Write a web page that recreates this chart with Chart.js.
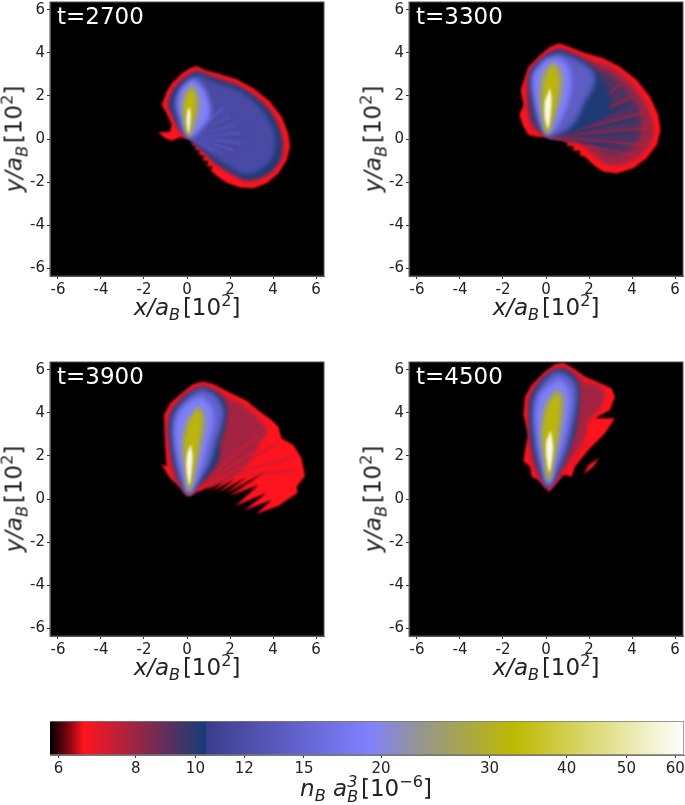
<!DOCTYPE html>
<html>
<head>
<meta charset="utf-8">
<script src="https://cdn.jsdelivr.net/npm/chart.js@4/dist/chart.umd.min.js"></script>
<style>
html,body{margin:0;padding:0;background:#fff;width:685px;height:805px;overflow:hidden}
canvas{position:absolute}
.lab{position:absolute;font-family:"DejaVu Sans",sans-serif;font-size:23px;color:#222;white-space:nowrap;transform:translate(-50%,-50%);line-height:1}
.lab.rot{transform:translate(-50%,-50%) rotate(-90deg)}
.lab sub,.lab sup{font-size:.7em;line-height:0}
.gap{margin-left:.12em}
.stamp{position:absolute;font-family:"DejaVu Sans",sans-serif;font-size:23px;color:#fff;line-height:1}
.ss{display:inline-flex;flex-direction:column;font-size:.7em;line-height:.95;vertical-align:middle;font-style:italic}
</style>
</head>
<body>
<script>
// ---- axis ticks
const axisTicks = [-6,-4,-2,0,2,4,6];
const axisLimit = 6.37;
const colorbarTicks = [6,8,10,12,15,20,30,40,50,60];
const colorbarRange = [5.81,62];

// ---- colour scale of the density
const cmapValues = [5.81,6.2,6.59,10.4,10.4,19.1,23.3,32.9,62];
const cmapColors = [[0,0,0],[120,5,15],[255,20,30],[20,60,120],[60,60,140],[128,128,255],[150,150,140],[190,185,0],[255,255,255]];

// ---- t = 2700: density contours [x, y]
const t2700Levels = [6.6,10.3,11.8,19,24,33,58];
const t2700A = [[.45,3.4],[.84,3.21],[1.53,3.02],[2.31,2.78],[3.09,2.36],[3.86,1.74],[4.4,1.04],[4.71,.26],[4.79,-.36],[4.64,-.98],[4.25,-1.6],[3.71,-2.06],[3.09,-2.29],[2.47,-2.26],[1.84,-2.03],[1.38,-1.72],[1.1,-1.45],[1.2,-1.28],[.9,-1.25],[1,-1.05],[.7,-.98],[.82,-.8],[.52,-.72],[.62,-.55],[.36,-.5],[.45,-.35],[.22,-.28],[.3,-.15],[.14,-.02],[-.33,.08],[-.71,-.08],[-1.02,.03],[-1.33,.31],[-.79,.34],[-.71,.65],[-.95,1.19],[-1.18,1.58],[-.95,2.2],[-.71,2.59],[-.25,3.05],[.14,3.29]];
const t2700B = [[.45,3.18],[1.38,2.82],[2.31,2.51],[3.09,2.05],[3.71,1.5],[4.17,.81],[4.45,-.05],[4.4,-.82],[4.02,-1.44],[3.4,-1.83],[2.78,-1.94],[2.16,-1.67],[1.53,-1.29],[.99,-.82],[.53,-.36],[.14,.03],[-.33,.42],[-.64,1.04],[-.87,1.58],[-.64,2.28],[-.17,2.82]];
const t2700C = [[.53,3.02],[1.46,2.59],[2.31,2.31],[3.01,1.84],[3.55,1.27],[3.94,.65],[4.12,-.05],[4.05,-.67],[3.71,-1.21],[3.16,-1.57],[2.62,-1.63],[2,-1.32],[1.46,-.98],[.91,-.59],[.45,-.28],[.14,.08],[-.25,.42],[-.48,.96],[-.64,1.58],[-.43,2.2],[-.02,2.71]];
const t2700D = [[.37,2.82],[.84,2.28],[1.07,1.58],[1.07,1.04],[.68,.5],[.22,.08],[-.09,.26],[-.33,.96],[-.48,1.66],[-.33,2.28],[.06,2.71]];
const t2700E = [[.26,2.59],[.53,2.12],[.64,1.5],[.45,.81],[.11,.08],[-.09,.65],[-.25,1.5],[-.09,2.2]];
const t2700F = [[.2,2.4],[.38,1.97],[.38,1.43],[.24,.81],[.06,.14],[-.1,.81],[-.12,1.5],[-.01,2.05]];
const t2700G = [[.12,1.5],[.17,1.04],[.08,.26],[-.02,.81],[.02,1.3]];
const t2700Light = [[1.69,1.43],[2,1.04],[2.31,.65],[2.47,.26],[2.47,-.2],[2.16,-.51],[1.69,-.67],[1.22,-.59]];
const t2700Dark = [[2.5,1.2],[2.9,.7],[3.1,.1],[2.9,-.5],[2.4,-.9]];

// ---- t = 3300
const t3300Levels = [6.6,8,9.3,10.2,14,19,24,32,58];
const t3300A = [[.62,4.45],[.96,4.33],[1.74,4.02],[2.67,3.75],[3.44,3.36],[4.22,2.74],[4.84,1.97],[5.22,1.12],[5.33,.42],[5.15,-.28],[4.68,-.9],[4.06,-1.36],[3.29,-1.6],[2.67,-1.52],[2.2,-1.21],[1.81,-.82],[1.55,-.75],[1.6,-.55],[1.25,-.55],[1.3,-.35],[.96,-.3],[1,-.12],[.57,.02],[.11,.08],[-.43,.1],[-.82,.19],[-1.05,.57],[-1.24,1.12],[-1.05,1.58],[-1.18,2.28],[-.82,3.36],[-.28,3.91],[.19,4.29]];
const t3300B = [[.62,4.22],[1.89,3.75],[2.98,3.36],[3.83,2.74],[4.53,1.89],[4.91,1.04],[5.02,.34],[4.76,-.36],[4.22,-.9],[3.52,-1.21],[2.82,-1.21],[2.36,-.9],[1.92,-.51],[1.5,-.12],[.96,.03],[.11,.14],[-.67,.57],[-.9,1.66],[-.82,3.05],[-.2,3.75],[.19,4.06]];
const t3300C = [[.62,4.17],[2.05,3.44],[2.98,2.98],[3.67,2.36],[4.22,1.66],[4.45,.88],[4.37,.11],[3.91,-.51],[3.29,-.74],[2.67,-.59],[2.05,-.2],[1.43,.11],[.81,.14],[.11,.17],[-.59,.73],[-.74,1.66],[-.7,3.05],[-.12,3.75],[.26,4.02]];
const t3300D = [[.62,4.11],[1.58,3.75],[2.28,3.13],[2.82,2.43],[3.02,1.75],[2.9,1.15],[2.3,.8],[1.74,.5],[1.1,.25],[.19,.14],[-.43,.73],[-.67,1.81],[-.67,3.13],[-.12,3.75]];
const t3300E = [[.62,4.02],[1.5,3.67],[2.23,3.05],[2.2,2.43],[1.81,1.74],[1.5,1.04],[.96,.42],[.11,.14],[-.36,.73],[-.59,1.74],[-.67,3.05],[-.05,3.75]];
const t3300F = [[.42,3.83],[.96,3.52],[1.19,2.74],[1.04,1.74],[.57,.65],[.06,.19],[-.28,.88],[-.51,1.81],[-.59,2.9],[-.05,3.67]];
const t3300G = [[.34,3.6],[.73,3.21],[.81,2.43],[.57,1.43],[.06,.19],[-.2,1.04],[-.31,2.12],[-.2,3.05]];
const t3300H = [[.3,3.5],[.56,3.05],[.58,2.36],[.4,1.35],[.06,.26],[-.14,1.12],[-.15,2.12],[-.04,2.9]];
const t3300I = [[.19,2.4],[.26,1.74],[.11,.5],[-.06,1.04],[-.06,1.74]];
const t3300Blue = [[3.8,1.6],[4.1,.95],[3.95,.3],[3.4,-.25],[2.8,-.35]];
const t3300Red = [[3.5,2.55],[4.05,2],[4.5,1.2],[4.75,.5],[4.7,-.3],[4.2,-.8]];

// ---- t = 3900
const t3900Levels = [6.6,7.9,10.3,14.5,19,24,32,58];
const t3900A = [[.76,5.46],[1.22,5.35],[1.92,4.99],[2.78,4.57],[3.4,4.06],[3.94,3.67],[4.25,3.36],[4.4,2.82],[4.95,2.51],[5.33,1.89],[5.49,1.07],[5.1,.57],[5.15,.29],[4.25,-.33],[3.21,-.7],[3.94,-.05],[2.65,-.54],[3.71,.29],[2.25,-.33],[3.32,.65],[1.97,.14],[3.63,1.27],[1.77,.23],[2.78,1.04],[1.46,.29],[2.23,.96],[1.15,.34],[1.77,.88],[.84,.39],[1.22,.73],[.6,.39],[.29,.39],[.02,.11],[-.33,.57],[-.79,.96],[-1.21,1.63],[-.95,1.5],[-1.02,2.59],[-1.07,3.91],[-.79,4.45],[-.17,4.99],[.29,5.35]];
const t3900B = [[.76,5.3],[1.84,4.76],[2.62,4.37],[3.24,3.83],[3.71,3.21],[3.4,2.59],[2.78,1.66],[1.92,.88],[1.22,.65],[.45,.5],[.06,.26],[-.64,1.04],[-.87,2.59],[-.87,3.83],[-.17,4.84],[.29,5.15]];
const t3900C = [[.76,5.22],[1.46,4.91],[1.84,4.29],[1.77,3.36],[1.53,2.59],[1.46,1.81],[1.07,1.19],[.53,.65],[.06,.23],[-.4,1.04],[-.71,2.12],[-.82,3.36],[-.71,4.06],[-.09,4.76],[.37,5.07]];
const t3900D = [[.76,5.15],[1.38,4.76],[1.69,4.14],[1.61,3.44],[1.3,2.43],[1.07,1.66],[.6,.88],[.08,.23],[-.33,1.04],[-.6,2.12],[-.71,3.36],[-.56,4.06],[-.02,4.68],[.37,4.99]];
const t3900E = [[.68,4.76],[1.15,4.29],[1.22,3.52],[.91,2.28],[.6,1.19],[.08,.26],[-.25,1.19],[-.48,2.28],[-.56,3.36],[-.33,4.06],[.22,4.6]];
const t3900F = [[.57,4.37],[.84,3.98],[.84,3.29],[.6,2.12],[.11,.29],[-.14,1.66],[-.25,2.74],[-.02,3.67]];
const t3900G = [[.5,4.25],[.68,3.83],[.64,3.13],[.46,2.12],[.11,.42],[-.08,1.74],[-.1,2.74],[.11,3.6]];
const t3900H = [[.18,2.55],[.26,1.91],[.11,.65],[-.03,1.5],[.01,2.12]];
const t3900Maroon = [[4.2,2.6],[4.8,1.9],[5,1.3]];
const t3900MaroonFrom = [1.8,1.1];
const t3900Red = [[3.3,3],[3.1,2.2],[2.5,1.5],[1.9,1.1]];

// ---- t = 4500
const t4500Levels = [6.6,7.9,10.3,14.5,19,24,32,58];
const t4500A = [[.81,6.33],[1.27,6.08],[1.81,5.69],[2.43,5.43],[3.05,5.15],[3.21,4.76],[2.98,4.14],[2.28,3.75],[3.21,3.75],[2.74,3.05],[1.97,2.28],[1.35,1.5],[1.19,1.04],[.65,1.19],[.11,.42],[-.36,.88],[-.67,1.04],[-.74,1.5],[-1.05,1.74],[-.98,2.28],[-.82,2.98],[-1.05,3.91],[-.98,4.76],[-.67,5.3],[-.05,5.92],[.42,6.26]];
const t4500Streak = [[2.48,1.92],[2.2,1.5],[1.74,1.15],[1.97,1.58]];
const t4500B = [[.81,6.16],[1.35,5.84],[1.81,5.46],[2.51,5.22],[2.74,4.84],[2.51,4.22],[1.97,3.6],[1.81,2.82],[1.43,2.05],[.96,1.43],[.11,.5],[-.43,1.12],[-.74,2.05],[-.82,3.91],[-.74,4.84],[-.05,5.77],[.42,6.11]];
const t4500C = [[.81,6.05],[1.27,5.77],[1.53,5.22],[1.55,4.53],[1.35,3.13],[1.04,2.2],[.65,1.35],[.11,.53],[-.36,1.43],[-.67,2.67],[-.78,4.06],[-.67,4.84],[-.05,5.69],[.42,6]];
const t4500D = [[.73,5.92],[1.19,5.61],[1.43,5.15],[1.43,4.53],[1.19,3.13],[.88,2.05],[.12,.57],[-.31,1.58],[-.56,2.82],[-.65,4.06],[-.51,4.84],[.03,5.61],[.42,5.89]];
const t4500E = [[.65,5.58],[1.04,5.15],[1.12,4.37],[.88,2.98],[.5,1.74],[.12,.65],[-.2,1.74],[-.4,2.82],[-.47,4.06],[-.28,4.84],[.26,5.38]];
const t4500F = [[.62,5.15],[.85,4.68],[.81,3.75],[.5,2.2],[.12,.73],[-.12,2.05],[-.25,3.13],[-.05,4.37],[.34,5]];
const t4500G = [[.55,4.95],[.69,4.53],[.62,3.6],[.4,2.2],[.12,.88],[-.08,2.12],[-.15,3.13],[.03,4.22],[.34,4.76]];
const t4500H = [[.22,3.2],[.33,2.36],[.16,1.25],[.01,2.05],[.01,2.67]];
const t4500Red = [[2.4,3.6],[2.2,2.9],[1.9,2.4]];

// ---- panel descriptors
const panels = [
 {t:'t=2700',left:0,top:0,width:340,levels:t2700Levels,shapes:[t2700A,t2700B,t2700C,t2700D,t2700E,t2700F,t2700G],extra:[],origin:[.1,.1],
  rays:[{ends:t2700Light,level:15,alpha:.4,width:2.5,after:2},{ends:t2700Dark,level:11,alpha:.35,width:2,after:2}]},
 {t:'t=3300',left:359,top:0,width:326,levels:t3300Levels,shapes:[t3300A,t3300B,t3300C,t3300D,t3300E,t3300F,t3300G,t3300H,t3300I],extra:[],origin:[.1,.1],
  rays:[{ends:t3300Blue,level:10.2,alpha:.8,width:3.5,after:2},{ends:t3300Red,level:7.2,alpha:.6,width:2.2,after:2}]},
 {t:'t=3900',left:0,top:360,width:340,levels:t3900Levels,shapes:[t3900A,t3900B,t3900C,t3900D,t3900E,t3900F,t3900G,t3900H],extra:[],origin:[.1,.2],
  rays:[{ends:t3900Maroon,from:t3900MaroonFrom,level:7.6,alpha:.55,width:2.5,after:0},{ends:t3900Red,level:6.8,alpha:.6,width:2.2,after:1}]},
 {t:'t=4500',left:359,top:360,width:326,levels:t4500Levels,shapes:[t4500A,t4500B,t4500C,t4500D,t4500E,t4500F,t4500G,t4500H],extra:[t4500Streak],origin:[.1,.4],
  rays:[{ends:t4500Red,level:6.8,alpha:.6,width:2.5,after:1}]}
];

function colorFor(v,alpha){
  let i=0;
  while(i<cmapValues.length-2 && v>=cmapValues[i+1]) i++;
  const a=cmapValues[i],b=cmapValues[i+1];
  const f=b>a?Math.min(1,Math.max(0,Math.log(v/a)/Math.log(b/a))):1;
  const c=cmapColors[i].map((k,j)=>Math.round(k+(cmapColors[i+1][j]-k)*f));
  return alpha===undefined?`rgb(${c})`:`rgba(${c},${alpha})`;
}
const toPts=a=>a.map(p=>({x:p[0],y:p[1]}));
const softFor=l=>l<7?0.8:l<11?2.2:l<20?2.6:l<50?2.2:1.3;

const softLayers={id:'softLayers',
  beforeDraw(c){const a=c.chartArea;c.ctx.save();c.ctx.fillStyle='#000';c.ctx.fillRect(a.left,a.top,a.width,a.height);c.ctx.restore();},
  beforeDatasetsDraw(c){c.ctx.save();c.ctx.filter=`blur(${c.data.datasets[0].soft}px)`;},
  afterDatasetDraw(c,args){const n=c.data.datasets[args.index+1];if(n)c.ctx.filter=`blur(${n.soft}px)`;},
  afterDatasetsDraw(c){c.ctx.filter='none';c.ctx.restore();const a=c.chartArea;c.ctx.save();c.ctx.strokeStyle='#555';c.ctx.lineWidth=1;c.ctx.strokeRect(a.left,a.top,a.width,a.height);c.ctx.restore();}
};

function axis(pos){
  return {type:'linear',position:pos,min:-axisLimit,max:axisLimit,
    afterBuildTicks(s){s.ticks=axisTicks.map(v=>({value:v}));},
    afterFit(s){ if(pos==='left') s.width=50; else s.height=64; s.paddingTop=0;s.paddingBottom=0;s.paddingLeft=0;s.paddingRight=0; },
    grid:{display:true,drawOnChartArea:false,drawTicks:true,tickLength:3,tickColor:'#333'},
    border:{display:true,color:'#555',width:1},
    ticks:{color:'#222',font:{family:'"DejaVu Sans"',size:15},padding:2,maxRotation:0,autoSkip:false,callback:v=>String(v)}
  };
}

panels.forEach(p=>{
  const cv=document.createElement('canvas');
  cv.style.left=p.left+'px';cv.style.top=p.top+'px';
  cv.style.width=p.width+'px';cv.style.height='340px';
  cv.width=p.width;cv.height=340;
  document.body.appendChild(cv);
  const ds=[];let order=0;
  p.shapes.forEach((s,i)=>{
    const col=colorFor(p.levels[i]);
    ds.push({data:toPts(s),showLine:true,fill:'shape',backgroundColor:col,borderColor:col,borderWidth:0,pointRadius:0,tension:i===0?0:.3,order:order--,soft:softFor(p.levels[i])});
    if(i===0) p.extra.forEach(e=>{ds.push({data:toPts(e),showLine:true,fill:'shape',backgroundColor:col,borderColor:col,borderWidth:0,pointRadius:0,tension:0,order:order--,soft:1});});
    p.rays.filter(g=>g.after===i).forEach(g=>g.ends.forEach(r=>{
      ds.push({data:toPts([g.from||p.origin,r]),showLine:true,fill:false,borderColor:colorFor(g.level,g.alpha),borderWidth:g.width,pointRadius:0,tension:0,order:order--,soft:1});
    }));
  });
  new Chart(cv,{type:'scatter',data:{datasets:ds},plugins:[softLayers],
    options:{responsive:false,animation:false,events:[],
      layout:{padding:{top:2,left:0,right:p.width-324,bottom:0}},
      plugins:{legend:{display:false},tooltip:{enabled:false},title:{display:false}},
      scales:{x:axis('bottom'),y:axis('left')}}});
  const plotLeft=p.left+50, plotTop=p.top+2;
  const st=document.createElement('div');st.className='stamp';st.textContent=p.t;
  st.style.left=(plotLeft+7)+'px';st.style.top=(plotTop+3)+'px';document.body.appendChild(st);
  const xl=document.createElement('div');xl.className='lab';xl.innerHTML='<i>x/a<sub>B</sub></i><span class="gap">[10<sup>2</sup>]</span>';
  xl.style.left=(plotLeft+137)+'px';xl.style.top=(plotTop+305)+'px';document.body.appendChild(xl);
  const yl=document.createElement('div');yl.className='lab rot';yl.innerHTML='<i>y/a<sub>B</sub></i><span class="gap">[10<sup>2</sup>]</span>';
  yl.style.left=(plotLeft-36)+'px';yl.style.top=(plotTop+137)+'px';document.body.appendChild(yl);
});

// ---- colour bar
const cb=document.createElement('canvas');
cb.style.left='0';cb.style.top='700px';cb.style.width='685px';cb.style.height='105px';cb.width=685;cb.height=105;
document.body.appendChild(cb);
new Chart(cb,{type:'bar',
  data:{labels:['n'],datasets:[{data:[colorbarRange],barPercentage:1,categoryPercentage:1,borderWidth:1,borderColor:'#777',
    backgroundColor(ctx){
      const c=ctx.chart,a=c.chartArea;if(!a) return '#000';
      const s=c.scales.x,g=c.ctx.createLinearGradient(a.left,0,a.right,0);
      cmapValues.forEach((v,i)=>{g.addColorStop(Math.min(1,Math.max(0,(s.getPixelForValue(v)-a.left)/a.width)),`rgb(${cmapColors[i]})`);});
      return g;
    }}]},
  options:{indexAxis:'y',responsive:false,animation:false,events:[],
    layout:{padding:{top:21,left:50,right:1,bottom:0}},
    plugins:{legend:{display:false},tooltip:{enabled:false}},
    scales:{
      y:{display:false},
      x:{type:'logarithmic',position:'bottom',min:colorbarRange[0],max:colorbarRange[1],
        afterBuildTicks(s){s.ticks=colorbarTicks.map(v=>({value:v}));},
        afterFit(s){s.height=50;s.paddingLeft=0;s.paddingRight=0;},
        grid:{display:true,drawOnChartArea:false,drawTicks:true,tickLength:3,tickColor:'#333'},
        border:{display:true,color:'#777'},
        ticks:{color:'#222',font:{family:'"DejaVu Sans"',size:15},padding:2,maxRotation:0,autoSkip:false,callback:v=>String(v)}
      }}}});
const cl=document.createElement('div');cl.className='lab';
cl.innerHTML='<i>n<sub>B</sub> a</i><span class="ss"><span>3</span><span>B</span></span><span class="gap">[10<sup>−6</sup>]</span>';
cl.style.left='366px';cl.style.top='789px';document.body.appendChild(cl);
</script>
</body>
</html>
